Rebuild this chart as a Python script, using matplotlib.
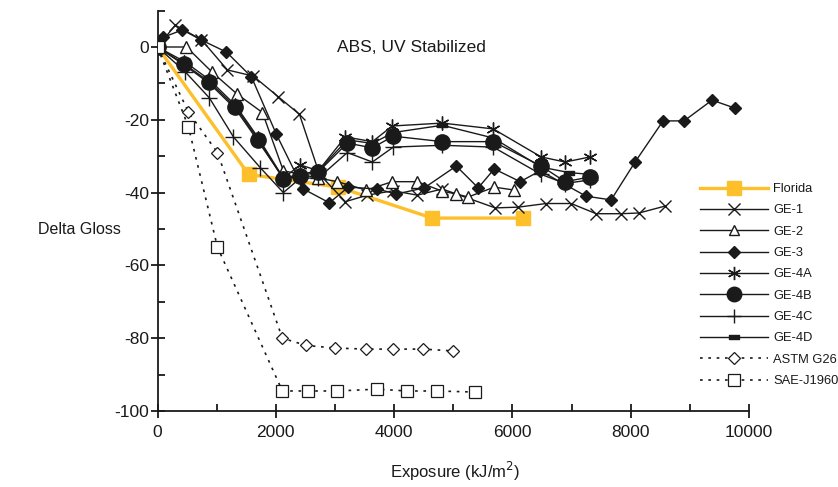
import matplotlib
matplotlib.use('Agg')
import matplotlib.pyplot as plt
from matplotlib.ticker import MultipleLocator
from matplotlib.path import Path

plt.rcParams['font.family'] = ['Liberation Sans', 'DejaVu Sans']

# ---------------- data ----------------
florida_x = [0, 1540, 3060, 4645, 6180]
florida_y = [0, -35, -38.5, -47, -47]

ge1_x = [0, 300, 743, 1182, 1620, 2044, 2400, 2740, 3176, 3547, 3986, 4392, 4814, 5709, 6098, 6571, 6993, 7416, 7838, 8142, 8581]
ge1_y = [0, 6, 2, -6.3, -8, -13.7, -18.5, -35, -42.5, -40.7, -39.5, -40.7, -39, -44.2, -44, -43, -43, -45.8, -45.8, -45.6, -43.7]

ge2_x = [0, 490, 929, 1351, 1774, 2128, 2720, 3041, 3530, 3970, 4392, 4814, 5051, 5253, 5693, 6030]
ge2_y = [0, 0, -7, -13, -18, -34, -36, -37, -39.3, -37, -37, -39.6, -40.4, -41.2, -38.5, -39.3]

ge3_x = [0, 101, 422, 743, 1166, 1588, 2010, 2466, 2905, 3226, 3716, 4037, 4510, 5051, 5422, 5693, 6132, 6470, 7247, 7669, 8074, 8547, 8902, 9375, 9764]
ge3_y = [0, 2.7, 4.7, 1.9, -1.4, -8.2, -24, -39, -42.8, -38.5, -39, -40.4, -38.7, -32.7, -38.7, -33.5, -37, -34, -41, -42, -31.6, -20.3, -20.3, -14.6, -16.8]

ge4a_x = [0, 456, 878, 1318, 1706, 2128, 2415, 2720, 3176, 3632, 3970, 4814, 5676, 6486, 6892, 7314]
ge4a_y = [0, -4, -9, -16, -25, -36, -32.4, -34, -24.7, -26, -21.7, -20.9, -22.5, -30.2, -31.6, -30.2]

ge4b_x = [0, 456, 878, 1318, 1706, 2128, 2415, 2720, 3209, 3632, 3986, 4814, 5676, 6486, 6892, 7314]
ge4b_y = [0, -4.7, -9.6, -16.5, -25.5, -36.3, -35.4, -34.3, -26.4, -27.7, -24.5, -26, -26, -32.7, -37, -35.7]

ge4c_x = [0, 473, 878, 1284, 1740, 2128, 2415, 2720, 3209, 3632, 3986, 4814, 5676, 6486, 6892, 7314]
ge4c_y = [0, -6.9, -14, -24.7, -33.2, -40, -36, -36, -29, -31.6, -27.5, -27, -27.5, -35, -37.5, -36.5]

ge4d_x = [0, 456, 878, 1318, 1706, 2128, 2415, 2720, 3209, 3632, 3986, 4814, 5676, 6486, 6960, 7314]
ge4d_y = [0, -5, -10, -17, -26, -36, -35, -34, -25.5, -26.5, -23.5, -21.5, -25, -33, -34.5, -35]

astm_x = [0, 524, 1014, 2111, 2517, 3007, 3530, 3986, 4493, 5000]
astm_y = [0, -17.9, -29, -80, -82, -82.7, -83, -83, -83, -83.5]

sae_x = [0, 524, 1014, 2111, 2551, 3041, 3716, 4223, 4730, 5372]
sae_y = [0, -22, -55, -94.5, -94.5, -94.5, -94, -94.5, -94.5, -94.8]

x_ticks = [0, 2000, 4000, 6000, 8000, 10000]
y_ticks = [-100, -80, -60, -40, -20, 0]

# ---------------- figure ----------------
W, H = 838, 487
fig = plt.figure(figsize=(W / 100, H / 100), dpi=100)
ax = fig.add_axes([157.5 / W, 1 - 411 / H, (749 - 157.5) / W, (411 - 10.6) / H])

yellow = '#FDC02A'
ink = '#1a1a1a'
rect_marker = Path([(-1, -0.45), (1, -0.45), (1, 0.45), (-1, 0.45), (-1, -0.45)],
                   [Path.MOVETO, Path.LINETO, Path.LINETO, Path.LINETO, Path.CLOSEPOLY])
dots = (0, (1.6, 3.4))

ax.plot(florida_x, florida_y, color=yellow, lw=2.4, marker='s', ms=10.5,
        mfc=yellow, mec=yellow, label='Florida', zorder=2)
ax.plot(ge1_x, ge1_y, color=ink, lw=1, marker='x', ms=9, mew=1,
        label='GE-1', zorder=3)
ax.plot(ge2_x, ge2_y, color=ink, lw=1, marker='^', ms=8, mew=1,
        mfc='white', mec=ink, label='GE-2', zorder=3)
ax.plot(ge3_x, ge3_y, color=ink, lw=1, marker='D', ms=6.5,
        mfc=ink, mec=ink, label='GE-3', zorder=3)
ax.plot(ge4a_x, ge4a_y, color=ink, lw=1, marker=(6, 2, 0), ms=10, mew=1,
        label='GE-4A', zorder=3)
ax.plot(ge4b_x, ge4b_y, color=ink, lw=1, marker='o', ms=11,
        mfc=ink, mec=ink, label='GE-4B', zorder=3)
ax.plot(ge4c_x, ge4c_y, color=ink, lw=1, marker='+', ms=11, mew=1,
        label='GE-4C', zorder=3)
ax.plot(ge4d_x, ge4d_y, color=ink, lw=1, marker=rect_marker, ms=7,
        mfc=ink, mec=ink, label='GE-4D', zorder=3)
ax.plot(astm_x, astm_y, color=ink, lw=1.2, ls=dots, marker='D', ms=6,
        mfc='white', mec=ink, mew=0.9, label='ASTM G26', zorder=4)
ax.plot(sae_x, sae_y, color=ink, lw=1.2, ls=dots, marker='s', ms=8.5,
        mfc='white', mec=ink, mew=0.9, label='SAE-J1960', zorder=4)

ax.set_xlim(0, 10000)
ax.set_ylim(-100, 10)
ax.set_xticks(x_ticks)
ax.set_xticklabels([str(v) for v in x_ticks])
ax.set_yticks(y_ticks)
ax.set_yticklabels([str(v) for v in y_ticks])
ax.xaxis.set_minor_locator(MultipleLocator(1000))
ax.yaxis.set_minor_locator(MultipleLocator(10))

for s in ['top', 'right']:
    ax.spines[s].set_visible(False)
for s in ['left', 'bottom']:
    ax.spines[s].set_linewidth(1.3)
    ax.spines[s].set_color(ink)

ax.tick_params(which='major', direction='inout', length=10, width=1.3,
               colors=ink, labelsize=12.5, labelcolor=ink)
ax.tick_params(axis='y', which='major', pad=0.8)
ax.tick_params(axis='x', which='major', pad=5)
ax.tick_params(which='minor', direction='in', length=5, width=1.3, colors=ink)
for lab in ax.get_xticklabels() + ax.get_yticklabels():
    lab.set_clip_on(False)

fig.text(411 / W, 1 - 47 / H, 'ABS, UV Stabilized', ha='center', va='center',
         fontsize=12.5, color=ink)
fig.text(79 / W, 1 - 229 / H, 'Delta Gloss', ha='center', va='center',
         fontsize=11.5, color=ink)
fig.text(455 / W, 1 - 471 / H, 'Exposure (kJ/m$^2$)', ha='center', va='center',
         fontsize=12, color=ink)

leg = ax.legend(loc='upper left', bbox_to_anchor=(700 / W, 1 - 183 / H),
                bbox_transform=fig.transFigure, frameon=False, fontsize=9.3,
                handlelength=5.3, handletextpad=0.35, labelspacing=0.72,
                borderpad=0, borderaxespad=0, markerscale=0.95)
for t in leg.get_texts():
    t.set_color(ink)

fig.savefig('out.png', dpi=100)
